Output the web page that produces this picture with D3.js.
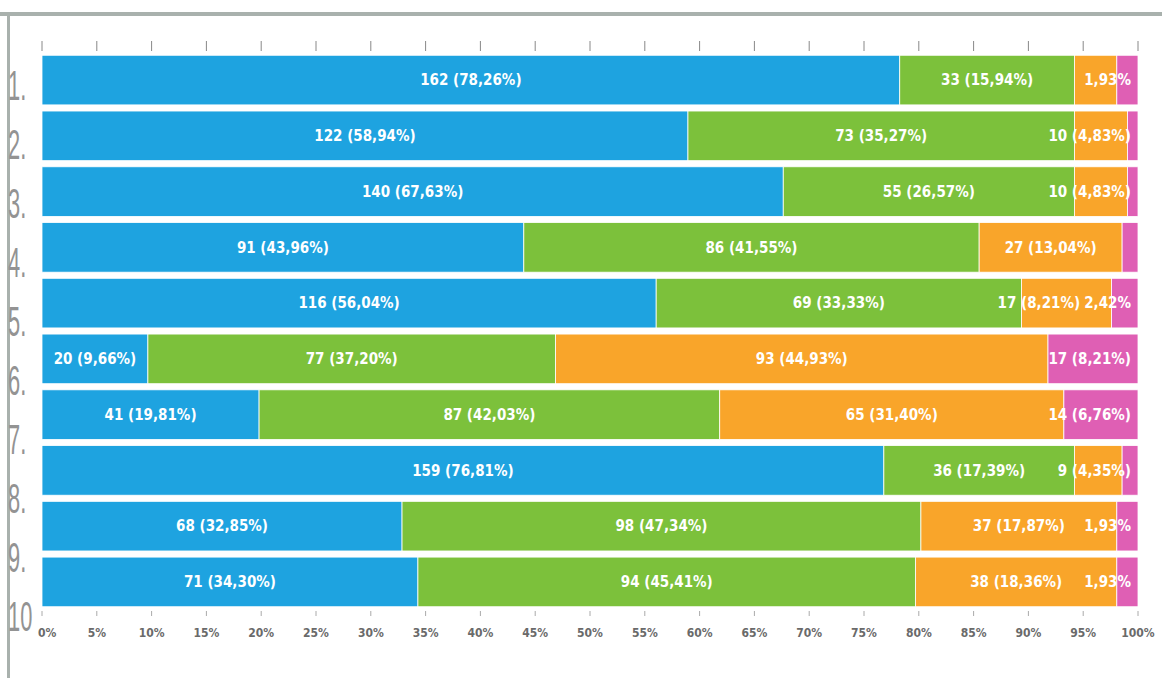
<!DOCTYPE html>
<html>
<head>
<meta charset="utf-8">
<script src="https://cdn.jsdelivr.net/npm/d3@7"></script>
<style>
  body { margin: 0; background: #fff; }
  .seg-label { font-family: "DejaVu Sans Condensed", "DejaVu Sans", sans-serif; font-weight: bold; font-size: 15px; fill: #fff; }
  .row-label { font-family: "Liberation Sans", sans-serif; font-size: 42px; fill: #939393; }
  .tick-label { font-family: "DejaVu Sans Condensed", "DejaVu Sans", sans-serif; font-weight: bold; font-size: 12px; fill: #6a6a6a; }
</style>
</head>
<body>
<div id="chart"></div>
<script>
var ROWS = ['1.', '2.', '3.', '4.', '5.', '6.', '7.', '8.', '9.', '10'];
var SERIES_A = [162, 122, 140, 91, 116, 20, 41, 159, 68, 71];
var SERIES_B = [33, 73, 55, 86, 69, 77, 87, 36, 98, 94];
var SERIES_C = [8, 10, 10, 27, 17, 93, 65, 9, 37, 38];
var SERIES_D = [4, 2, 2, 3, 5, 17, 14, 3, 4, 4];
var COLORS = ['#1ea3e0', '#7cc13b', '#f9a52a', '#df5fb4'];
var TICKS = d3.range(0, 101, 5);

var width = 1162, height = 678;
var svg = d3.select('#chart')
    .append('svg')
    .attr('width', width)
    .attr('height', height);

// frame lines
svg.append('rect').attr('x', 0).attr('y', 12).attr('width', width).attr('height', 4).style('fill', '#a9b1ad');
svg.append('rect').attr('x', 7).attr('y', 12).attr('width', 3).attr('height', height).style('fill', '#a9b1ad');

var x = d3.scaleLinear().domain([0, 100]).range([42, 1138]);
var y = d3.scaleBand().domain(d3.range(ROWS.length)).range([53.6, 608.4])
    .paddingInner(0.11).paddingOuter(0.03);
var yLabel = d3.scalePoint().domain(d3.range(ROWS.length)).range([100, 631]);

// build stacked rows
var rows = d3.range(ROWS.length).map(function (i) {
    var vals = [SERIES_A[i], SERIES_B[i], SERIES_C[i], SERIES_D[i]];
    var total = d3.sum(vals);
    var acc = 0;
    return vals.map(function (v, k) {
        var pct = v / total * 100;
        var seg = { row: i, k: k, v: v, pct: pct, x0: acc, x1: acc + pct };
        acc += pct;
        return seg;
    });
});
var segs = [].concat.apply([], rows);

// top ticks
svg.append('g').selectAll('line')
    .data(TICKS)
    .enter()
    .append('line')
    .attr('x1', (d) => x(d)).attr('x2', (d) => x(d))
    .attr('y1', 41).attr('y2', 51)
    .style('stroke', '#888').style('stroke-width', 1);

// bars
svg.append('g').selectAll('rect')
    .data(segs)
    .enter()
    .append('rect')
    .attr('x', (d) => x(d.x0))
    .attr('y', (d) => y(d.row))
    .attr('width', (d) => x(d.x1) - x(d.x0))
    .attr('height', y.bandwidth())
    .style('fill', (d) => COLORS[d.k])
    .style('stroke', '#fff')
    .style('stroke-width', 0.8);

function fmt(p) { return p.toFixed(2).replace('.', ','); }

// segment labels: full label for wide segments, percent only for a small last one
var shown = segs.filter((d) => d.pct >= 4 || (d.k == 3 && d.pct >= 1.9));
var labelG = svg.append('g');
rows.forEach(function (row, i) {
    var limit = 1131;
    row.slice().reverse().forEach(function (d) {
        if (shown.indexOf(d) == -1) return;
        var t = labelG.append('text')
            .attr('class', 'seg-label')
            .attr('y', y(d.row) + y.bandwidth() / 2)
            .attr('dy', '0.35em')
            .text(d.pct >= 4 ? d.v + ' (' + fmt(d.pct) + '%)' : fmt(d.pct) + '%');
        var w = t.node().getComputedTextLength();
        var cx = (x(d.x0) + x(d.x1)) / 2;
        var left = Math.min(cx - w / 2, limit - w);
        t.attr('x', left);
        limit = left - 4;
    });
});

// row labels
svg.append('g').selectAll('text')
    .data(ROWS)
    .enter()
    .append('text')
    .attr('class', 'row-label')
    .attr('transform', (d, i) => 'translate(8,' + yLabel(i) + ') scale(0.52,1)')
    .text((d) => d);

// bottom axis
svg.append('g').selectAll('line')
    .data(TICKS)
    .enter()
    .append('line')
    .attr('x1', (d) => x(d)).attr('x2', (d) => x(d))
    .attr('y1', 611).attr('y2', 616)
    .style('stroke', '#aaa').style('stroke-width', 1);

svg.append('g').selectAll('text')
    .data(TICKS)
    .enter()
    .append('text')
    .attr('class', 'tick-label')
    .attr('x', (d) => d == 0 ? x(d) - 4 : x(d))
    .attr('y', 637)
    .attr('text-anchor', (d) => d == 0 ? 'start' : 'middle')
    .text((d) => d + '%');
</script>
</body>
</html>
